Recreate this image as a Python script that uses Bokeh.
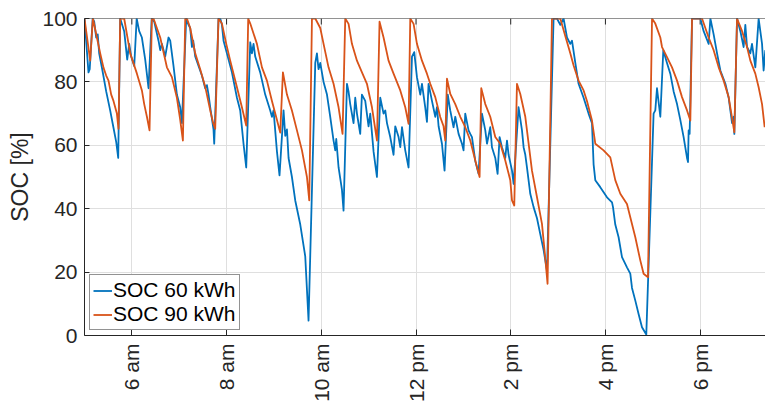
from math import pi
from bokeh.plotting import figure
from bokeh.models import FixedTicker, Range1d, Legend, LegendItem, Span
from bokeh.embed import file_html
from bokeh.resources import INLINE

# ---- data (time in hours of day, SOC in %) ----
t60 = [5.000, 5.084, 5.110, 5.173, 5.205, 5.247, 5.279, 5.310, 5.374, 5.458, 5.542, 5.606, 5.670, 5.712,
       5.754, 5.838, 5.902, 5.944, 5.986, 6.050, 6.102, 6.155, 6.212, 6.282, 6.352,
       6.419, 6.472, 6.563, 6.599, 6.635, 6.704, 6.774, 6.810, 6.880, 6.951, 7.021, 7.057,
       7.148, 7.197, 7.232, 7.268, 7.296, 7.338, 7.408, 7.479, 7.549, 7.585, 7.619, 7.655, 7.724, 7.739,
       7.830, 7.866, 7.902, 7.936, 8.007, 8.113, 8.219, 8.288, 8.358, 8.415,
       8.500, 8.535, 8.569, 8.605, 8.710, 8.816, 8.922, 8.958, 8.992, 9.064, 9.118,
       9.203, 9.239, 9.275, 9.309, 9.380, 9.450, 9.556, 9.661, 9.731,
       9.873, 9.908, 9.942, 9.978, 10.048, 10.120, 10.189, 10.259, 10.295, 10.316, 10.365, 10.436, 10.470,
       10.542, 10.575, 10.611, 10.681, 10.717, 10.753, 10.822, 10.858, 10.928, 10.998, 11.034, 11.104, 11.175,
       11.245, 11.315, 11.351, 11.387, 11.456, 11.526, 11.562, 11.632, 11.668, 11.704, 11.773, 11.843,
       11.915, 11.963, 12.020, 12.090, 12.126, 12.195, 12.231, 12.265, 12.337, 12.407, 12.443, 12.477, 12.548, 12.603,
       12.671, 12.723, 12.793, 12.829, 12.899, 12.971, 13.004, 13.040, 13.110, 13.146, 13.182, 13.252, 13.321,
       13.393, 13.463, 13.499, 13.568, 13.604, 13.674, 13.723,
       13.765, 13.815, 13.885, 13.921, 13.955, 14.027, 14.061,
       14.166, 14.238, 14.272, 14.308, 14.343, 14.413, 14.483, 14.555, 14.624, 14.694, 14.766,
       14.905, 14.977, 15.047, 15.116, 15.188, 15.258, 15.294, 15.364, 15.433, 15.539, 15.644, 15.716,
       15.750, 15.786, 15.891, 16.033, 16.139, 16.160, 16.208, 16.278, 16.350, 16.455, 16.525, 16.561,
       16.631, 16.700, 16.772, 16.863,
       17.017, 17.053, 17.089, 17.159, 17.222, 17.300, 17.370, 17.440, 17.512, 17.581, 17.651, 17.723, 17.744,
       17.757, 17.778, 17.829, 18.004, 18.074, 18.180, 18.216, 18.285, 18.357, 18.427, 18.533, 18.602,
       18.674, 18.708, 18.722, 18.779, 18.849, 18.918, 18.954, 18.990, 19.059, 19.095, 19.165, 19.235,
       19.307, 19.340, 19.376]
soc60 = [100, 83, 84, 100, 99, 94, 95, 89, 84, 77, 71, 66, 61, 56,
         100, 96, 87, 92, 88, 85, 100, 96, 94, 87, 78,
         100, 99, 93, 90, 92, 88, 94, 93, 85, 76, 72, 67,
         100, 98, 97, 91, 93, 88, 85, 82, 78, 79, 76, 72, 65, 60.5,
         100, 100, 98, 93, 89, 83, 75, 71, 60.5, 53,
         92.5, 89, 92, 88, 83, 76, 71, 69, 71, 58, 50.5,
         71, 63, 65, 56, 50, 42.6, 35, 25, 4.7,
         86, 89, 84, 86, 80, 76, 69, 61.5, 58.4, 62, 53, 46, 39.4,
         79.4, 77, 73, 67, 75, 70, 63.6, 76, 74, 66, 70, 58, 50,
         75, 70, 71, 67, 62.6, 57, 66, 62.6, 59.4, 65.7, 58.4, 53,
         88, 89.4, 81.5, 76, 79.4, 72, 67.4, 79.4, 74, 69, 72, 66, 60.5, 52,
         76, 71, 65.7, 69, 63.6, 60.5, 58.4, 70, 64.7, 63.6, 62.6, 55, 51,
         70, 64.7, 60.5, 65.7, 59.4, 56, 51,
         62.6, 59.4, 56, 61.5, 57, 52, 47.8,
         72, 64.7, 59.4, 57, 53, 44.7, 40.5, 37, 32, 27, 20.5,
         100, 100, 98, 100, 94, 92, 93, 86, 79.4, 75, 70, 67,
         54, 49, 46.8, 43.6, 42, 40.5, 35, 31, 24.7, 21.5, 19.5, 15,
         11, 6.8, 2.6, 0.3,
         70, 71, 78, 69, 90, 86, 82.6, 77, 73, 68, 62.6, 56, 54.7,
         64.7, 63.6, 100, 100, 96, 92, 100, 95, 89, 83.6, 79.4, 75,
         67, 69, 63.6, 100, 96, 91, 98, 91, 89, 92, 84.6, 100,
         92, 83.6, 90]

t90 = [5.000, 5.120, 5.177, 5.262, 5.332, 5.401, 5.458, 5.507, 5.564, 5.612, 5.684, 5.718,
       5.754, 5.838, 5.965, 6.107, 6.212, 6.261, 6.318, 6.373,
       6.423, 6.457, 6.599, 6.740, 6.846, 6.951, 7.021, 7.078,
       7.127, 7.163, 7.232, 7.338, 7.443, 7.549, 7.655, 7.718, 7.760,
       7.830, 7.902, 7.993, 8.077, 8.219, 8.324, 8.415,
       8.457, 8.500, 8.641, 8.747, 8.852, 8.958, 9.064, 9.133,
       9.190, 9.275, 9.380, 9.486, 9.592, 9.697, 9.746,
       9.803, 9.873, 9.978, 10.048, 10.153, 10.259, 10.365, 10.449,
       10.506, 10.576, 10.647, 10.753, 10.859, 10.964, 11.070, 11.176,
       11.230, 11.315, 11.420, 11.526, 11.668, 11.773, 11.843,
       11.879, 11.949, 12.020, 12.126, 12.231, 12.301, 12.407, 12.512, 12.582, 12.618,
       12.654, 12.724, 12.829, 12.935, 13.041, 13.146, 13.252, 13.343,
       13.378, 13.463, 13.568, 13.674, 13.780, 13.885, 13.991, 14.027, 14.075,
       14.132, 14.202, 14.308, 14.378, 14.449, 14.555, 14.660, 14.720, 14.778,
       14.871, 15.047, 15.152, 15.258, 15.328, 15.433, 15.539, 15.610, 15.716, 15.786,
       15.961, 16.103, 16.208, 16.314, 16.455, 16.525, 16.631, 16.736, 16.806, 16.899,
       16.984, 17.053, 17.159, 17.195, 17.300, 17.406, 17.512, 17.617, 17.723, 17.793,
       17.829, 18.040, 18.179, 18.285, 18.391, 18.496, 18.602, 18.659, 18.722,
       18.779, 18.885, 18.990, 19.060, 19.165, 19.235, 19.307, 19.362]
soc90 = [100, 86.7, 100, 94, 89, 84.5, 82, 80.4, 76, 74, 70, 65.2,
         100, 100, 89, 82.6, 77.3, 73, 69, 64.7,
         100, 100, 94, 84.6, 81.5, 75, 68, 61.5,
         100, 100, 97, 89, 84, 78.5, 71, 67, 65.2,
         100, 98.4, 92, 86.7, 78.3, 72, 66.2,
         100, 98.4, 92, 84.6, 80.4, 74, 68, 64,
         83, 76, 71, 64.7, 58.4, 50, 42.6,
         100, 100, 97, 92, 84.6, 79.4, 72, 63.6,
         100, 98.3, 92, 86.7, 83, 79.4, 72, 61.5,
         99, 94, 86.7, 82.6, 77.3, 72, 66.8,
         100, 98.3, 92, 86.7, 82.6, 79.4, 75.2, 68.9, 66, 61.5,
         81, 76.2, 73, 69, 65.7, 61.5, 55.2, 50,
         78, 73, 69, 62.6, 60.5, 55.2, 49, 42.6, 41,
         79.4, 76.2, 69, 60.5, 52, 43.6, 35.2, 26, 16.3,
         100, 100, 94.5, 89, 85.2, 80.4, 77.3, 74, 67.8, 60.5,
         58.4, 56.2, 49, 44.7, 41.5, 37.3, 31, 23.7, 19.5, 18.4,
         100, 98.4, 94, 91, 87.8, 84.6, 80.4, 75.2, 71, 67.8,
         100, 100, 94, 90, 84.6, 80.4, 75.2, 70, 64.1,
         100, 96, 91, 86.7, 82.6, 78.3, 73, 65.7]

tick_hours = [6, 8, 10, 12, 14, 16, 18]
tick_labels = ["6 am", "8 am", "10 am", "12 pm", "2 pm", "4 pm", "6 pm"]
y_ticks = [0, 20, 40, 60, 80, 100]
series_names = ["SOC 60 kWh", "SOC 90 kWh"]

FONT = "Liberation Sans"
AX = "#262626"
GRID = "#DFDFDF"

p = figure(width=765, height=405, output_backend="svg", toolbar_location=None,
           x_range=Range1d(5.0, 19.38), y_range=Range1d(0, 100),
           min_border_left=84, min_border_right=0, min_border_top=18, min_border_bottom=70)
p.outline_line_color = None
p.background_fill_color = "white"
p.border_fill_color = "white"

# x axis
p.xaxis.ticker = FixedTicker(ticks=tick_hours)
p.xaxis.major_label_overrides = {h: s for h, s in zip(tick_hours, tick_labels)}
p.xaxis.major_label_orientation = pi / 2
p.xaxis.major_label_text_font = FONT
p.xaxis.major_label_text_font_size = "21px"
p.xaxis.major_label_text_color = AX
p.xaxis.major_label_standoff = 8
p.xaxis.major_tick_in = 6
p.xaxis.major_tick_out = 0
p.xaxis.minor_tick_line_color = None
p.xaxis.axis_line_color = AX
p.xaxis.major_tick_line_color = AX

# y axis
p.yaxis.ticker = FixedTicker(ticks=y_ticks)
p.yaxis.axis_label = "SOC [%]"
p.yaxis.axis_label_text_font = FONT
p.yaxis.axis_label_text_font_style = "normal"
p.yaxis.axis_label_text_font_size = "23px"
p.yaxis.axis_label_text_color = AX
p.yaxis.axis_label_standoff = 6
p.yaxis.major_label_text_font = FONT
p.yaxis.major_label_text_font_size = "21px"
p.yaxis.major_label_text_color = AX
p.yaxis.major_label_standoff = 7
p.yaxis.major_tick_in = 5
p.yaxis.major_tick_out = 0
p.yaxis.minor_tick_line_color = None
p.yaxis.axis_line_color = AX
p.yaxis.major_tick_line_color = AX

# top edge of the box, with mirrored inward ticks
p.add_layout(Span(location=100, dimension="width", line_color=AX, line_width=1))
p.segment(x0=tick_hours, y0=[100] * len(tick_hours), x1=tick_hours,
          y1=[98.1] * len(tick_hours), line_color=AX, line_width=1)

p.xgrid.ticker = FixedTicker(ticks=tick_hours)
p.ygrid.ticker = FixedTicker(ticks=y_ticks)
p.xgrid.grid_line_color = GRID
p.ygrid.grid_line_color = GRID

r60 = p.line(t60, soc60, line_color="#0072BD", line_width=1.8, line_join="round")
r90 = p.line(t90, soc90, line_color="#D95319", line_width=1.8, line_join="round")

legend = Legend(items=[LegendItem(label=series_names[0], renderers=[r60]),
                       LegendItem(label=series_names[1], renderers=[r90])],
                location="bottom_left")
legend.margin = 5
legend.padding = 3
legend.spacing = 0
legend.glyph_width = 19
legend.glyph_height = 21
legend.label_height = 21
legend.label_standoff = 1
legend.label_text_font = FONT
legend.label_text_font_size = "21px"
legend.label_text_color = "black"
legend.border_line_color = AX
legend.border_line_width = 1
legend.background_fill_color = "white"
legend.background_fill_alpha = 1
p.add_layout(legend)

open("out.html", "w").write(file_html(p, INLINE))
